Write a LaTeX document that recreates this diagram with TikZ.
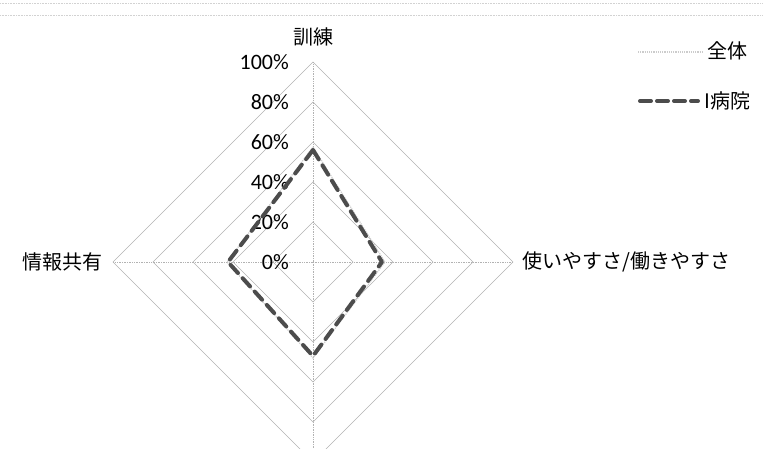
\documentclass[tikz,border=0pt]{standalone}
\usepackage{fontspec}
\setmainfont{Carlito}
\newfontfamily\cjk{Noto Sans CJK JP}
\usetikzlibrary{calc}
\tikzset{
	gridline/.style={gray!60, line width=0.6pt},
	spoke/.style={gray!60, line width=0.7pt, densely dotted},
	zentai/.style={gray!40, line width=1.2pt, densely dotted},
	ibyoin/.style={black!70, line width=4pt, dash pattern=on 11pt off 7pt, line cap=round, line join=round},
	axislabel/.style={font=\cjk\fontsize{20}{24}\selectfont, inner sep=0pt},
	pctlabel/.style={font=\fontsize{22}{24}\selectfont, anchor=east, inner sep=0pt},
}

\begin{document}
\begin{tikzpicture}[x=1pt,y=-1pt]
	\useasboundingbox (0,0) rectangle (763,448);
	\coordinate (O) at (313,262);
	
	%frame lines at the top
	\draw[gray!35, line width=0.6pt, densely dotted] (0,3)--(763,3);
	\draw[gray!35, line width=0.6pt, densely dotted] (0,15)--(763,15);
	
	%rings and spokes
	\foreach \r in {40,80,...,200}
		\draw[gridline] ($(O)+(0,-\r)$) -- ($(O)+(\r,0)$) -- ($(O)+(0,\r)$) -- ($(O)+(-\r,0)$) -- cycle;
	\foreach \a in {0,90,180,270}
		\draw[spoke] (O) -- ++(\a:200);
	
	%percent labels
	\foreach \p in {0,20,...,100}
		\node[pctlabel] (p\p) at ($(O)+(-24,-2*\p)$) {\p\%};
	
	%axis labels
	\node[axislabel] (kunren) at (313,37) {訓練};
	\node[axislabel, anchor=east] (joho) at (103,262) {情報共有};
	\node[axislabel, anchor=west] (tsukai) at (522,262) {使いやすさ/働きやすさ};
	
	%series
	\draw[zentai] ($(O)+(0,-115)$) -- ($(O)+(72,0)$) -- ($(O)+(0,96)$) -- ($(O)+(-86,0)$) -- cycle;
	\draw[ibyoin] ($(O)+(0,-112)$) -- ($(O)+(69,0)$) -- ($(O)+(0,94)$) -- ($(O)+(-85,0)$) -- cycle;
	
	%legend
	\node[axislabel, anchor=west] (leg1) at (707,51) {全体};
	\node[axislabel, anchor=west] (leg2) at (704,101) {I病院};
	\coordinate (l1) at (638,52);
	\coordinate (l2) at (640,101);
	\draw[zentai] (l1) -- ([xshift=-5pt]leg1.west |- l1);
	\draw[ibyoin, dash pattern=on 11pt off 6pt] (l2) -- ([xshift=-6pt]leg2.west |- l2);
\end{tikzpicture}
\end{document}
